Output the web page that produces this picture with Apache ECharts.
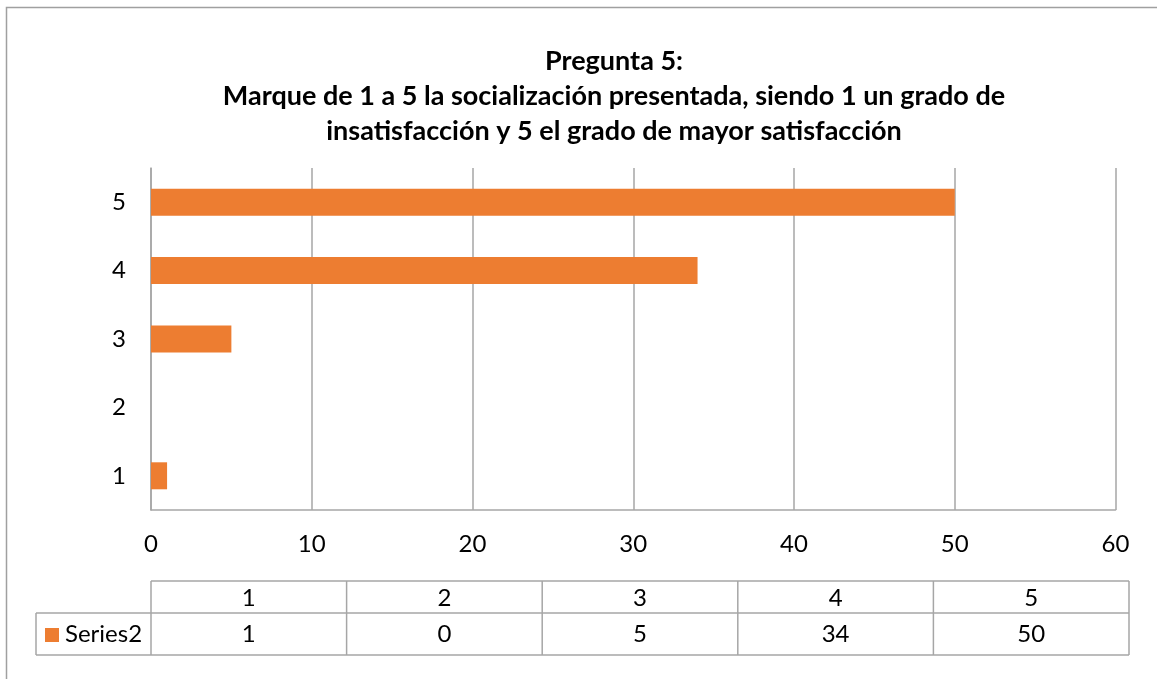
<!DOCTYPE html>
<html>
<head>
<meta charset="utf-8">
<script src="https://cdn.jsdelivr.net/npm/echarts@6/dist/echarts.min.js"></script>
<style>
  html, body { margin: 0; padding: 0; background: #fff; }
  #chart { width: 1157px; height: 679px; }
</style>
</head>
<body>
<div id="chart"></div>
<script>
  // chart data
  const categories = ['1', '2', '3', '4', '5']
  const series2 = [1, 0, 5, 34, 50]
  const seriesName = 'Series2'
  const xTicks = [0, 10, 20, 30, 40, 50, 60]
  const titleText = 'Pregunta 5:\nMarque de 1 a 5 la socialización presentada, siendo 1 un grado de\ninsatisfacción y 5 el grado de mayor satisfacción'

  const font = 'Lato, "Open Sans", sans-serif'
  const fs = 24
  const gridColor = '#a6a6a6'
  const barColor = '#ed7d31'

  // data table under the axis
  const tblLeft = 151, tblRight = 1129, tblTop = 581, rowH = 32, legLeft = 36
  const colW = (tblRight - tblLeft) / categories.length
  let table = []
  const line = (x1, y1, x2, y2) => ({
    type: 'line', shape: {x1, y1, x2, y2},
    style: {stroke: gridColor, lineWidth: 1.5}
  })
  table.push(line(tblLeft, tblTop, tblRight, tblTop))
  table.push(line(legLeft, tblTop + rowH, tblRight, tblTop + rowH))
  table.push(line(legLeft, tblTop + rowH * 2 + 10, tblRight, tblTop + rowH * 2 + 10))
  table.push(line(legLeft, tblTop + rowH, legLeft, tblTop + rowH * 2 + 10))
  for (let i = 0; i <= categories.length; i++) {
    const x = tblLeft + i * colW
    table.push(line(x, tblTop, x, tblTop + rowH * 2 + 10))
  }
  categories.forEach((c, i) => {
    const cx = tblLeft + (i + 0.5) * colW
    table.push({
      type: 'text', x: cx, y: tblTop + rowH / 2 + 1,
      style: {text: c, font: fs + 'px ' + font, fill: '#000', align: 'center', verticalAlign: 'middle'}
    })
    table.push({
      type: 'text', x: cx, y: tblTop + rowH + 21,
      style: {text: String(series2[i]), font: fs + 'px ' + font, fill: '#000', align: 'center', verticalAlign: 'middle'}
    })
  })
  table.push({type: 'rect', shape: {x: 45, y: tblTop + rowH + 15, width: 14, height: 14}, style: {fill: barColor}})
  table.push({
    type: 'text', x: 65, y: tblTop + rowH + 21,
    style: {text: seriesName, font: fs + 'px ' + font, fill: '#000', align: 'left', verticalAlign: 'middle'}
  })

  let option = {
    backgroundColor: '#fff',
    animation: false,
    title: {
      text: titleText,
      left: 614, top: 44, textAlign: 'center', padding: 0,
      textStyle: {fontFamily: font, fontWeight: 'bold', fontSize: 27, lineHeight: 35, color: '#000'}
    },
    grid: {left: 151, right: 41.5, top: 168, height: 342, containLabel: false},
    xAxis: {
      type: 'value',
      min: xTicks[0], max: xTicks[xTicks.length - 1], interval: 10,
      axisLine: {show: true, lineStyle: {color: gridColor, width: 1.5}},
      axisTick: {show: false},
      axisLabel: {margin: 22, color: '#000', fontFamily: font, fontSize: fs},
      splitLine: {show: true, lineStyle: {color: gridColor, width: 1.5}}
    },
    yAxis: {
      type: 'category',
      data: categories,
      axisLine: {show: true, lineStyle: {color: gridColor, width: 1.5}},
      axisTick: {show: false},
      axisLabel: {margin: 25, color: '#000', fontFamily: font, fontSize: fs}
    },
    series: [{
      name: seriesName,
      type: 'bar',
      data: series2,
      barWidth: 27,
      itemStyle: {color: barColor}
    }],
    graphic: [
      {type: 'rect', shape: {x: 6.5, y: 7.5, width: 1170, height: 700}, style: {fill: 'none', stroke: '#a0a0a0', lineWidth: 1.5}, z: -1}
    ].concat(table)
  }

  const myChart = echarts.init(document.getElementById('chart'))
  myChart.setOption(option)
</script>
</body>
</html>
